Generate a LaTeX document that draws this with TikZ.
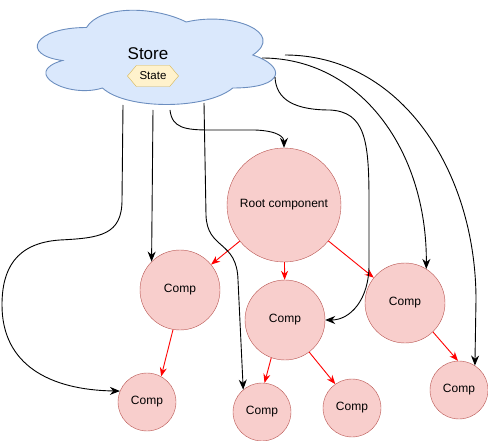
\documentclass[tikz,border=0pt]{standalone}
\usepackage{fontspec}
\setmainfont{Liberation Sans}
\usetikzlibrary{shapes,arrows.meta,positioning}
\definecolor{cloudfill}{HTML}{DAE8FC}
\definecolor{cloudline}{HTML}{6C8EBF}
\definecolor{statefill}{HTML}{FFF2CC}
\definecolor{stateline}{HTML}{D6B656}
\definecolor{compfill}{HTML}{F8CECC}
\definecolor{compline}{HTML}{B85450}
\definecolor{flowred}{HTML}{FF0000}

\begin{document}
\begin{tikzpicture}[
        x=1pt, y=-1pt,
        store/.style={
                draw=cloudline, fill=cloudfill, line width=0.9pt
            },
        state/.style={
                signal, signal to=east and west, signal pointer angle=100,
                draw=stateline, fill=statefill,
                minimum width=51pt, minimum height=21pt, inner sep=1pt,
                font=\fontsize{11.5}{13}\selectfont
            },
        comp/.style={
                circle, draw=compline, fill=compfill, inner sep=0pt,
                minimum size=80pt, font=\fontsize{12}{14}\selectfont
            },
        root/.style={comp, minimum size=114pt},
        leaf/.style={comp, minimum size=58pt},
        link/.style={draw, line width=0.9pt, -{Stealth[length=10pt,width=8pt]}},
        flow/.style={draw=flowred, line width=0.9pt, -{Stealth[length=9pt,width=7pt]}}
    ]
    \useasboundingbox (0,0) rectangle (488,441);
    % Store
    \begin{scope}[shift={(20,0)}, x=266pt, y=-110pt]
        \draw[store] (0.25,0.25) .. controls (0.05,0.25) and (0,0.5) .. (0.16,0.55)
            .. controls (0,0.66) and (0.18,0.9) .. (0.31,0.8)
            .. controls (0.4,1) and (0.7,1) .. (0.8,0.8)
            .. controls (1,0.8) and (1,0.6) .. (0.875,0.5)
            .. controls (1,0.3) and (0.8,0.1) .. (0.625,0.2)
            .. controls (0.5,0.05) and (0.3,0.05) .. (0.25,0.25) -- cycle;
    \end{scope}
    \node[font=\fontsize{17}{20}\selectfont] (store) at (148,54) {Store};
    \node[state] (state) at (153,76) {State};
    \coordinate (storeA) at (123,105);
    \coordinate (storeB) at (153,110);
    \coordinate (storeC) at (170,110);
    \coordinate (storeD) at (204,103);
    \coordinate (storeE) at (275,77);
    \coordinate (storeF) at (262,58);
    \coordinate (storeG) at (285,55);

    \node[root] (root) at (284,205) {Root component};
    \node[comp] (compL) at (180,290) {Comp};
    \node[comp] (compM) at (285,320) {Comp};
    \node[comp] (compR) at (405,303) {Comp};
    \node[leaf] (leafL) at (147,402) {Comp};
    \node[leaf] (leafM) at (262,412) {Comp};
    \node[leaf] (leafN) at (352,408) {Comp};
    \node[leaf] (leafR) at (459,390) {Comp};

    \draw[flow] (root) -- (compL);
    \draw[flow] (root) -- (compM);
    \draw[flow] (root) -- (compR);
    \draw[flow] (compL.-100) -- (leafL.61);
    \draw[flow] (compM.-110) -- (leafM.85);
    \draw[flow] (compM.-53) -- (leafN.125);
    \draw[flow] (compR.-46) -- (leafR.92);

    \draw[link] (storeA) -- (122,200) .. controls (122,235) and (100,238) .. (60,240)
        .. controls (15,243) and (2,270) .. (2,305) .. controls (2,365) and (50,390) .. (leafL.158);
    \draw[link] (storeB) -- (compL.135);
    \draw[link] (storeC) .. controls (172,128) and (185,130) .. (210,130) -- (255,130)
        .. controls (280,131) and (284,138) .. (root.north);
    \draw[link] (storeD) -- (206,215) .. controls (207,250) and (237,240) .. (238,280) -- (leafM.130);
    \draw[link] (storeE) .. controls (276,100) and (295,110) .. (330,110)
        .. controls (365,112) and (369,140) .. (369,200) -- (369,265)
        .. controls (369,300) and (350,320) .. (compM.east);
    \draw[link] (storeF) .. controls (360,58) and (427,150) .. (compR.58);
    \draw[link] (storeG) .. controls (400,55) and (476,170) .. (476,300) -- (leafR.57);
\end{tikzpicture}
\end{document}
